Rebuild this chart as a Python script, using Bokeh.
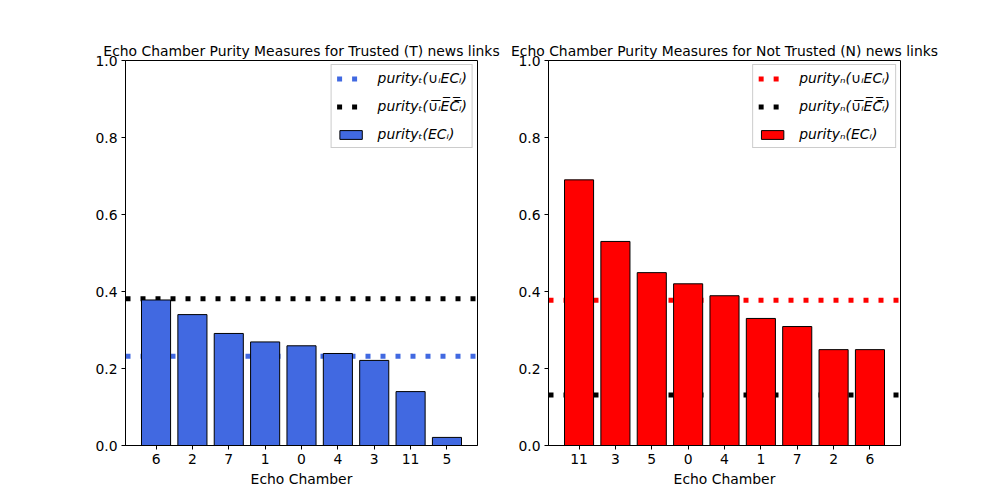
from bokeh.plotting import figure
from bokeh.layouts import row
from bokeh.models import (ColumnDataSource, FactorRange, Range1d, Span, Legend,
                          LegendItem, FixedTicker, PrintfTickFormatter)
from bokeh.embed import file_html
from bokeh.resources import INLINE

# ---- data ----
trusted_chambers = ["6", "2", "7", "1", "0", "4", "3", "11", "5"]
trusted_purity = [0.378, 0.340, 0.291, 0.269, 0.259, 0.239, 0.221, 0.140, 0.021]
trusted_union = 0.232
trusted_complement = 0.381

untrusted_chambers = ["11", "3", "5", "0", "4", "1", "7", "2", "6"]
untrusted_purity = [0.690, 0.530, 0.449, 0.420, 0.389, 0.330, 0.309, 0.249, 0.249]
untrusted_union = 0.377
untrusted_complement = 0.131

y_ticks = [0.0, 0.2, 0.4, 0.6, 0.8, 1.0]

FONT = "DejaVu Sans"
FS = "13.9px"


def make(title, chambers, purity, union, complement, color, labels,
         width, border_left, border_right):
    p = figure(width=width, height=500, output_backend="svg", toolbar_location=None,
               x_range=FactorRange(factors=chambers, range_padding=0.34,
                                   range_padding_units="absolute"),
               y_range=Range1d(0, 1),
               min_border_left=border_left, min_border_right=border_right,
               min_border_top=60, min_border_bottom=55)
    p.title.text = title
    p.title.align = "center"
    p.title.text_font = FONT
    p.title.text_font_size = FS
    p.title.text_font_style = "normal"
    p.title.text_color = "black"
    p.title.standoff = 4

    p.xgrid.visible = False
    p.ygrid.visible = False
    p.outline_line_color = "black"
    p.outline_line_alpha = 1
    p.outline_line_width = 1

    for ax in (p.xaxis[0], p.yaxis[0]):
        ax.axis_line_color = "black"
        ax.major_tick_line_color = "black"
        ax.major_tick_out = 4
        ax.major_tick_in = 0
        ax.minor_tick_line_color = None
        ax.major_label_text_font = FONT
        ax.major_label_text_font_size = FS
        ax.major_label_text_color = "black"
        ax.major_label_standoff = 4
        ax.axis_label_text_font = FONT
        ax.axis_label_text_font_size = FS
        ax.axis_label_text_font_style = "normal"
        ax.axis_label_text_color = "black"
        ax.axis_label_standoff = 4
    p.yaxis.ticker = FixedTicker(ticks=y_ticks)
    p.yaxis.formatter = PrintfTickFormatter(format="%.1f")
    p.xaxis.axis_label = "Echo Chamber"

    p.add_layout(Span(location=union, dimension="width", line_color=color,
                      line_width=5, line_dash="5 10", level="underlay"))
    p.add_layout(Span(location=complement, dimension="width", line_color="black",
                      line_width=5, line_dash="5 10", level="underlay"))

    src = ColumnDataSource(dict(x=chambers, top=purity))
    bars = p.vbar(x="x", top="top", width=0.8, source=src, fill_color=color,
                  line_color="black", line_width=1)

    # legend proxies (the visible lines are the Spans above)
    r_union = p.line(x=chambers, y=[union] * len(chambers), line_color=color,
                     line_width=5, line_dash="5 10", visible=False)
    r_comp = p.line(x=chambers, y=[complement] * len(chambers), line_color="black",
                    line_width=5, line_dash="5 10", visible=False)

    legend = Legend(items=[LegendItem(label=labels[0], renderers=[r_union]),
                           LegendItem(label=labels[1], renderers=[r_comp]),
                           LegendItem(label=labels[2], renderers=[bars])],
                    location="top_right")
    legend.margin = 4
    legend.padding = 5
    legend.spacing = 12
    legend.label_height = 15
    legend.glyph_width = 28
    legend.glyph_height = 11
    legend.label_standoff = 13
    legend.label_text_font = FONT
    legend.label_text_font_size = FS
    legend.label_text_font_style = "italic"
    legend.label_text_color = "black"
    legend.border_line_color = "#cccccc"
    legend.border_line_alpha = 1
    legend.background_fill_alpha = 0.8
    p.add_layout(legend)
    return p


p1 = make("Echo Chamber Purity Measures for Trusted (T) news links",
          trusted_chambers, trusted_purity, trusted_union, trusted_complement,
          "royalblue",
          ["purity\u209c(\u222a\u1d62EC\u1d62)",
           "purity\u209c(\u222a\u0305\u1d62\u0305E\u0305C\u0305\u1d62\u0305)",
           "purity\u209c(EC\u1d62)"],
          500, 125, 23)
p2 = make("Echo Chamber Purity Measures for Not Trusted (N) news links",
          untrusted_chambers, untrusted_purity, untrusted_union, untrusted_complement,
          "red",
          ["purity\u2099(\u222a\u1d62EC\u1d62)",
           "purity\u2099(\u222a\u0305\u1d62\u0305E\u0305C\u0305\u1d62\u0305)",
           "purity\u2099(EC\u1d62)"],
          500, 48, 100)

layout = row(p1, p2)
open("out.html", "w").write(file_html(layout, INLINE))
